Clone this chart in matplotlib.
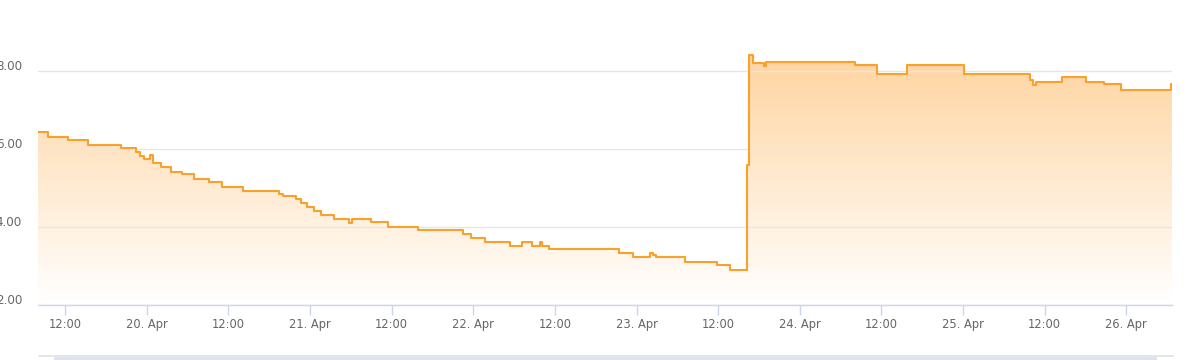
import numpy as np
import pandas as pd
import matplotlib
matplotlib.use("Agg")
import matplotlib.pyplot as plt
import matplotlib.dates as mdates
from matplotlib.patches import Rectangle
from matplotlib.lines import Line2D
from matplotlib.colors import LinearSegmentedColormap
import matplotlib.transforms as mtransforms

# Step readings (time of change -> new level)
times = [
    "04-19 08:00", "04-19 09:26", "04-19 12:23", "04-19 15:19", "04-19 20:11",
    "04-19 22:23", "04-19 22:58", "04-19 23:34", "04-20 00:26", "04-20 00:53",
    "04-20 02:04", "04-20 03:32", "04-20 05:09", "04-20 06:55", "04-20 09:07",
    "04-20 11:02", "04-20 14:07", "04-20 19:25", "04-20 20:00", "04-20 21:55",
    "04-20 22:39", "04-20 23:32", "04-21 00:34", "04-21 01:35", "04-21 03:30",
    "04-21 05:42", "04-21 06:09", "04-21 08:57", "04-21 11:26", "04-21 15:51",
    "04-21 22:28", "04-21 23:39", "04-22 01:42", "04-22 05:23", "04-22 07:09",
    "04-22 08:37", "04-22 09:48", "04-22 10:05", "04-22 11:07", "04-22 21:25",
    "04-22 23:28", "04-23 01:58", "04-23 02:25", "04-23 02:51", "04-23 07:07",
    "04-23 11:49", "04-23 13:44", "04-23 16:14", "04-23 16:32", "04-23 17:07",
    "04-23 18:44", "04-23 19:02", "04-24 08:07", "04-24 11:21", "04-24 15:46",
    "04-25 00:09", "04-25 09:51", "04-25 10:17", "04-25 10:44", "04-25 14:34",
    "04-25 18:05", "04-25 20:44", "04-25 23:14", "04-26 06:35", "04-26 06:44",
]
values = [
    6.44, 6.31, 6.23, 6.10, 6.03,
    5.92, 5.82, 5.74, 5.85, 5.64,
    5.54, 5.41, 5.36, 5.23, 5.15,
    5.03, 4.92, 4.85, 4.79, 4.72,
    4.62, 4.51, 4.41, 4.31, 4.21,
    4.10, 4.21, 4.13, 4.00, 3.92,
    3.82, 3.72, 3.62, 3.51, 3.62,
    3.51, 3.62, 3.51, 3.44, 3.33,
    3.23, 3.33, 3.28, 3.23, 3.10,
    3.03, 2.90, 5.59, 8.41, 8.21,
    8.13, 8.23, 8.15, 7.92, 8.15,
    7.92, 7.77, 7.64, 7.72, 7.85,
    7.72, 7.67, 7.51, 7.67, 7.67,
]
yticks = [2, 4, 6, 8]

line_color = "#f9a12c"
label_color = "#666666"
axis_color = "#ccd6eb"
grid_color = "#e6e6e6"

t = pd.to_datetime(["2019-" + s for s in times])
v = np.array(values)

plt.rcParams["font.family"] = "DejaVu Sans"
fig = plt.figure(figsize=(12, 3.6), dpi=100)
ax = fig.add_axes([38 / 1200, 55 / 360, 1134 / 1200, 305 / 360])

ymin, ymax = 2, 2 + 305 / 39

# area with vertical gradient, clipped to the step area
poly = ax.fill_between(t, v, ymin, step="post", facecolor="none", edgecolor="none")
x0, x1 = mdates.date2num(t[0]), mdates.date2num(t[-1])
cmap = LinearSegmentedColormap.from_list(
    "fade", [(1, 0.63, 0.17, 0.0), (1, 0.63, 0.17, 0.45)])
grad = np.linspace(0, 1, 256).reshape(-1, 1)
im = ax.imshow(grad, cmap=cmap, aspect="auto", origin="lower",
               extent=[x0, x1, ymin, v.max()], zorder=0)
im.set_clip_path(poly.get_paths()[0], transform=ax.transData)
ax.set_xlim(t[0], t[-1])
ax.set_ylim(ymin, ymax)

ax.step(t, v, where="post", color=line_color, lw=1.5, zorder=3)

# axes styling
for s in ["left", "right", "top"]:
    ax.spines[s].set_visible(False)
ax.spines["bottom"].set_color(axis_color)
ax.spines["bottom"].set_linewidth(1)
ax.set_axisbelow("line")
ax.yaxis.grid(True, color=grid_color, lw=1)

ax.set_yticks(yticks)
ax.set_yticklabels([f"{y:.2f}" for y in yticks])
ax.tick_params(axis="y", length=0, pad=11.5, labelsize=8.6, labelcolor=label_color)
offset = mtransforms.ScaledTranslation(0, 6 / 100, fig.dpi_scale_trans)
for lab in ax.get_yticklabels():
    lab.set_transform(lab.get_transform() + offset)


def fmt_date(x, pos=None):
    d = mdates.num2date(x)
    if d.hour == 0:
        return d.strftime("%d. %b")
    return d.strftime("%H:%M")


ax.xaxis.set_major_locator(mdates.HourLocator(byhour=[0, 12]))
ax.xaxis.set_major_formatter(plt.FuncFormatter(fmt_date))
ax.tick_params(axis="x", length=7.2, width=1, color=axis_color, pad=2,
               labelsize=8.3, labelcolor=label_color)

# navigator strip at the bottom
fig.add_artist(Line2D([39 / 1200, 1173 / 1200], [4 / 360, 4 / 360],
                      color="#e0e0e0", lw=1.2, transform=fig.transFigure))
fig.add_artist(Rectangle((54 / 1200, 0), (1157 - 54) / 1200, 3 / 360,
                         facecolor="#dde3f1", edgecolor="none",
                         transform=fig.transFigure))

fig.savefig("out.png", dpi=100)
